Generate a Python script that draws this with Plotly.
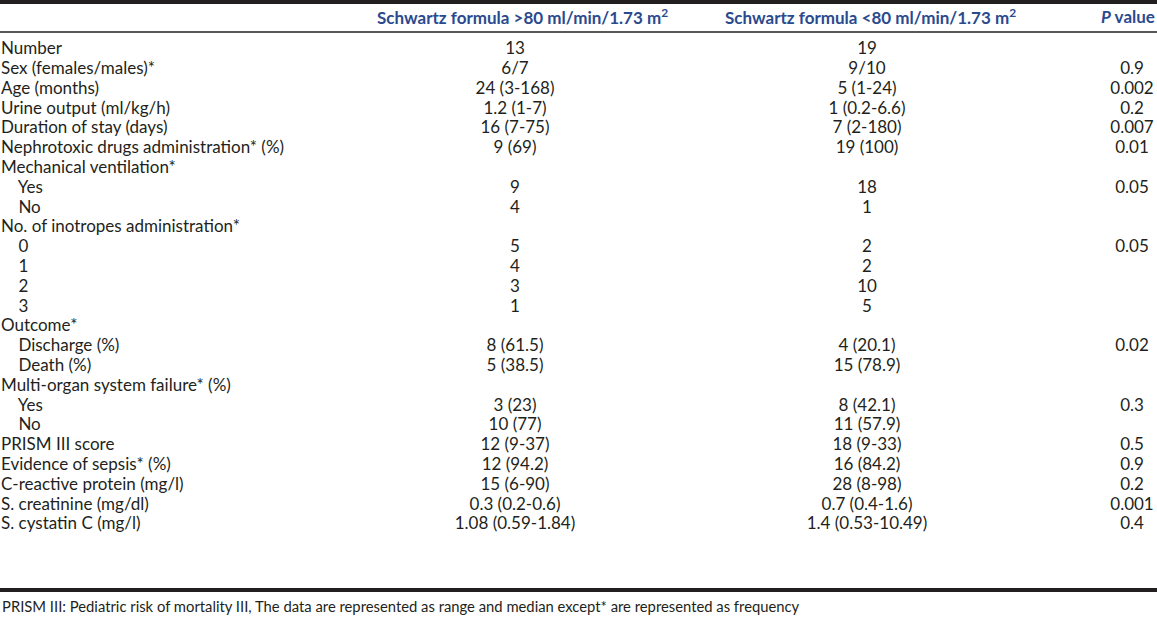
import plotly.graph_objects as go

headers = ["", "Schwartz formula >80 ml/min/1.73 m<sup>2</sup>",
           "Schwartz formula <80 ml/min/1.73 m<sup>2</sup>", "<i>P</i> value"]

labels = ["Number", "Sex (females/males)*", "Age (months)", "Urine output (ml/kg/h)",
          "Duration of stay (days)", "Nephrotoxic drugs administration* (%)",
          "Mechanical ventilation*", "  Yes", "  No", "No. of inotropes administration*",
          "  0", "  1", "  2", "  3", "Outcome*", "  Discharge (%)", "  Death (%)",
          "Multi-organ system failure* (%)", "  Yes", "  No", "PRISM III score",
          "Evidence of sepsis* (%)", "C-reactive protein (mg/l)", "S. creatinine (mg/dl)",
          "S. cystatin C (mg/l)"]

above80 = ["13", "6/7", "24 (3-168)", "1.2 (1-7)", "16 (7-75)", "9 (69)", "", "9", "4", "",
           "5", "4", "3", "1", "", "8 (61.5)", "5 (38.5)", "", "3 (23)", "10 (77)",
           "12 (9-37)", "12 (94.2)", "15 (6-90)", "0.3 (0.2-0.6)", "1.08 (0.59-1.84)"]

below80 = ["19", "9/10", "5 (1-24)", "1 (0.2-6.6)", "7 (2-180)", "19 (100)", "", "18", "1", "",
           "2", "2", "10", "5", "", "4 (20.1)", "15 (78.9)", "", "8 (42.1)", "11 (57.9)",
           "18 (9-33)", "16 (84.2)", "28 (8-98)", "0.7 (0.4-1.6)", "1.4 (0.53-10.49)"]

pvalues = ["", "0.9", "0.002", "0.2", "0.007", "0.01", "", "0.05", "", "",
           "0.05", "", "", "", "", "0.02", "", "", "0.3", "", "0.5", "0.9", "0.2",
           "0.001", "0.4"]

footnote = ("PRISM III: Pediatric risk of mortality III, The data are represented as range "
            "and median except* are represented as frequency")

W, H = 1157, 618
FONT = "Lato"
FS = 17
TXT = "#231f20"
HEAD = "#2b4a8e"

row0, step = 50, 19.8
ys = [row0 + i * step for i in range(len(labels))]


def col(x, texts, pos):
    fig.add_trace(go.Scatter(x=[x] * len(texts), y=ys, mode="text", text=texts,
                             textposition=pos,
                             textfont=dict(family=FONT, size=FS, color=TXT),
                             hoverinfo="skip", showlegend=False))


fig = go.Figure()
col(1, [l.replace("  ", "&nbsp;&nbsp;&nbsp;&nbsp;") for l in labels], "middle right")
col(515, above80, "middle center")
col(867, below80, "middle center")
col(1132, pvalues, "middle center")

head_x = [0, 522, 870, 1128]
for hx, h in zip(head_x[1:], headers[1:]):
    fig.add_annotation(x=hx, y=16, text="<b>" + h + "</b>", showarrow=False,
                       xanchor="center", yanchor="middle",
                       font=dict(family=FONT, size=FS, color=HEAD))

fig.add_annotation(x=0, y=606, text=footnote, showarrow=False, xanchor="left",
                   yanchor="middle", font=dict(family=FONT, size=14.8, color=TXT))

fig.add_shape(type="line", x0=0, x1=W, y0=2, y1=2, line=dict(color="#231f20", width=4))
fig.add_shape(type="line", x0=0, x1=W, y0=32, y1=32, line=dict(color="#231f20", width=1.3))
fig.add_shape(type="line", x0=0, x1=W, y0=590, y1=590, line=dict(color="#231f20", width=4))

fig.update_layout(width=W, height=H, margin=dict(l=0, r=0, t=0, b=0),
                  paper_bgcolor="white", plot_bgcolor="white",
                  xaxis=dict(range=[0, W], visible=False, fixedrange=True),
                  yaxis=dict(range=[H, 0], visible=False, fixedrange=True))
fig.write_html("out.html", config={"displayModeBar": False},
               post_script="document.body.style.margin='0';"
                           "document.body.style.overflow='hidden';")
